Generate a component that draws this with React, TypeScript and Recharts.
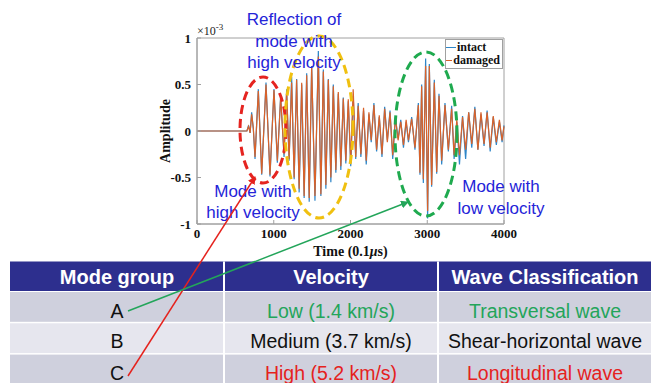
import { LineChart, Line, XAxis, YAxis, Legend, ReferenceArea } from "recharts"

// signal samples (time in 0.1 µs, amplitude in 1e-3)
const time = [
  0, 650, 672, 692, 712, 734, 756, 799, 843, 899, 951, 1003, 1047, 1090, 1134,
  1168, 1200, 1233, 1266, 1298, 1331, 1364, 1396, 1429, 1462, 1494, 1537, 1581, 1614, 1646,
  1679, 1711, 1744, 1776, 1809, 1841, 1874, 1906, 1939, 1971, 2003, 2035, 2068, 2100, 2135,
  2170, 2205, 2240, 2270, 2305, 2340, 2375, 2410, 2445, 2480, 2515, 2550, 2585, 2620, 2655,
  2690, 2725, 2755, 2797, 2840, 2884, 2905, 2927, 2949, 2979, 3005, 3027, 3057, 3092, 3123,
  3153, 3188, 3231, 3275, 3318, 3350, 3385, 3420, 3460, 3500, 3540, 3580, 3620, 3660, 3700,
  3740, 3780, 3820, 3860, 3900, 3940, 3975, 4000,
]
const intact = [
  0, 0, 0.06, -0.02, 0.2, 0.02, -0.3, 0.45, -0.47, 0.52, -0.49, 0.45, -0.34, 0.38, -0.28,
  0.45, -0.32, 0.58, -0.52, 0.56, -0.66, 0.5, -0.72, 0.62, -0.76, 0.7, -0.75, 0.86, -0.7, 0.66,
  -0.62, 0.56, -0.55, 0.5, -0.45, 0.4, -0.42, 0.36, -0.35, 0.32, -0.38, 0.38, -0.3, 0.3, -0.28,
  0.22, -0.36, 0.18, -0.12, 0.3, -0.22, 0.15, -0.28, 0.26, -0.1, 0.22, -0.3, 0.14, -0.08, 0.12,
  -0.18, 0.1, -0.12, 0.15, -0.2, 0.3, -0.47, 0.5, -0.56, 0.78, -0.94, 0.72, -0.6, 0.55, -0.46,
  0.4, -0.36, 0.3, -0.22, 0.27, -0.3, 0.1, -0.36, 0.16, -0.3, 0.2, -0.18, 0.26, -0.2, 0.18,
  -0.16, 0.22, -0.22, 0.15, -0.15, 0.1, -0.12, 0.06,
]
const damaged = [
  0, 0, 0.05, -0.02, 0.18, 0.03, -0.28, 0.43, -0.46, 0.5, -0.47, 0.44, -0.32, 0.36, -0.25,
  0.42, -0.3, 0.52, -0.5, 0.55, -0.62, 0.52, -0.7, 0.6, -0.72, 0.68, -0.7, 0.8, -0.68, 0.64,
  -0.58, 0.55, -0.5, 0.48, -0.42, 0.42, -0.38, 0.35, -0.32, 0.34, -0.35, 0.45, -0.28, 0.27, -0.25,
  0.25, -0.32, 0.2, -0.1, 0.28, -0.2, 0.17, -0.25, 0.24, -0.12, 0.2, -0.26, 0.15, -0.1, 0.1,
  -0.15, 0.12, -0.1, 0.13, -0.18, 0.28, -0.45, 0.48, -0.52, 0.7, -0.86, 0.7, -0.58, 0.52, -0.44,
  0.38, -0.32, 0.28, -0.2, 0.24, -0.26, 0.12, -0.26, 0.15, -0.2, 0.2, -0.14, 0.24, -0.2, 0.2,
  -0.14, 0.2, -0.18, 0.16, -0.12, 0.12, -0.1, 0.05,
]

const xTicks = [0, 1000, 2000, 3000, 4000]
const yTicks = [-1, -0.5, 0, 0.5, 1]

// table
const headers = ["Mode group", "Velocity", "Wave Classification"]
const groups = ["A", "B", "C"]
const velocities = ["Low (1.4 km/s)", "Medium (3.7 km/s)", "High (5.2 km/s)"]
const waves = ["Transversal wave", "Shear-horizontal wave", "Longitudinal wave"]

const data = time.map((t, i) => ({ t, intact: intact[i], damaged: damaged[i] }))

const serif = "'Liberation Serif', 'Times New Roman', serif"
const sans = "'Liberation Sans', Arial, sans-serif"
const BLUE = "#2e86c8"
const ORANGE = "#d9622a"
const NOTE = "#2424d8"
const GREEN = "#23a55a"
const RED = "#e5221d"
const rowText = [GREEN, "#111", RED]
const rowFill = ["#cfd0dd", "#e6e6ee", "#cfd0dd"]

const TimeLabel = (props: any) => {
  const vb = props.viewBox || { x: 197, y: 224, width: 307, height: 30 }
  return (
    <text x={vb.x + vb.width / 2} y={vb.y + 32} textAnchor="middle" fontFamily={serif}
      fontWeight={700} fontSize={14} fill="#111">
      Time (0.1<tspan fontStyle="italic">μ</tspan>s)
    </text>
  )
}

const AmpLabel = (props: any) => {
  const vb = props.viewBox || { x: 147, y: 38, width: 50, height: 186 }
  const cx = vb.x + 18
  const cy = vb.y + vb.height / 2
  return (
    <g>
      <text x={cx} y={cy} transform={`rotate(-90 ${cx} ${cy})`} textAnchor="middle"
        dominantBaseline="central" fontFamily={serif} fontWeight={700} fontSize={14} fill="#111">
        Amplitude
      </text>
      <text x={vb.x + vb.width} y={vb.y - 3} fontFamily={serif} fontSize={12} fill="#222">
        ×10<tspan dy={-5} fontSize={9}>-3</tspan>
      </text>
    </g>
  )
}

const LegendBox = () => (
  <div style={{ border: "1px solid #a0a0a0", background: "#fff", padding: "1px 2px 1px 0",
    fontFamily: serif, fontWeight: 700, fontSize: 12, lineHeight: "13px", color: "#111" }}>
    {[["intact", BLUE], ["damaged", ORANGE]].map(([name, c]) => (
      <div key={name} style={{ display: "flex", alignItems: "center", whiteSpace: "nowrap" }}>
        <span style={{ display: "inline-block", width: 10, borderTop: `1px solid ${c}`, marginRight: 1 }} />
        {name}
      </div>
    ))}
  </div>
)

export default function App() {
  const tableX = 10
  const colW = 214
  const colX = [tableX, tableX + colW, tableX + 2 * colW]
  const rowTop = (i: number) => 292 + i * 31.3
  const baselines = [318, 348, 380]
  return (
    <div style={{ position: "absolute", left: 0, top: 0, width: 651, height: 383, background: "#fff" }}>
      <LineChart width={651} height={383} data={data}
        margin={{ top: 38, right: 147, bottom: 129, left: 147 }}>
        <ReferenceArea x1={0} x2={4000} y1={-1} y2={1} fill="none" stroke="#a0a0a0" ifOverflow="visible" />
        <XAxis dataKey="t" type="number" domain={[0, 4000]} ticks={xTicks} height={30}
          stroke="#a0a0a0" tickSize={-4} tickMargin={9} interval={0}
          tick={{ fill: "#111", fontFamily: serif, fontWeight: 700, fontSize: 13 }}
          label={TimeLabel} />
        <YAxis type="number" domain={[-1, 1]} ticks={yTicks} width={50} interval={0}
          stroke="#a0a0a0" tickSize={-4} tickMargin={10}
          tick={{ fill: "#111", fontFamily: serif, fontWeight: 700, fontSize: 13 }}
          label={AmpLabel} />
        <Legend layout="vertical" align="center" verticalAlign="middle" content={LegendBox}
          wrapperStyle={{ top: 39, left: 445, width: 58, height: 28 }} />
        <Line dataKey="intact" type="linear" stroke={BLUE} strokeWidth={1.2} dot={false}
          isAnimationActive={false} />
        <Line dataKey="damaged" type="linear" stroke={ORANGE} strokeWidth={1.2} dot={false}
          isAnimationActive={false} />
      </LineChart>

      <svg width={651} height={383} style={{ position: "absolute", left: 0, top: 0, pointerEvents: "none" }}>
        <defs>
          <marker id="ahRed" markerWidth={8} markerHeight={8} refX={7} refY={4} orient="auto" markerUnits="userSpaceOnUse">
            <path d="M0,0 L8,4 L0,8 z" fill={RED} />
          </marker>
          <marker id="ahGreen" markerWidth={8} markerHeight={8} refX={7} refY={4} orient="auto" markerUnits="userSpaceOnUse">
            <path d="M0,0 L8,4 L0,8 z" fill={GREEN} />
          </marker>
        </defs>

        {/* mode groups */}
        <ellipse cx={263} cy={130} rx={23} ry={53} fill="none" stroke="#e52420" strokeWidth={3} strokeDasharray="9 5" />
        <ellipse cx={319} cy={127} rx={34} ry={91} fill="none" stroke="#f0c010" strokeWidth={3} strokeDasharray="9 5" />
        <ellipse cx={426} cy={134} rx={31} ry={82} fill="none" stroke="#1faa4f" strokeWidth={3} strokeDasharray="9 5" />

        <g fontFamily={sans} fontSize={17} fill={NOTE} textAnchor="middle">
          <text x={294} y={25}>Reflection of</text>
          <text x={294} y={47}>mode with</text>
          <text x={294} y={68}>high velocity</text>
          <text x={253} y={197}>Mode with</text>
          <text x={253} y={218}>high velocity</text>
          <text x={501} y={192}>Mode with</text>
          <text x={501} y={214}>low velocity</text>
        </g>

        {/* table */}
        <rect x={tableX} y={261.5} width={651 - tableX} height={29.5} fill="#2d2f8e" />
        {groups.map((_, i) => (
          <rect key={i} x={tableX} y={rowTop(i)} width={651 - tableX} height={29.8} fill={rowFill[i]} />
        ))}
        {[1, 2].map((k) => (
          <line key={k} x1={colX[k]} x2={colX[k]} y1={261.5} y2={383} stroke="#fff" strokeWidth={2} />
        ))}
        <g fontFamily={sans} fontWeight={700} fontSize={20} fill="#fff" textAnchor="middle">
          {headers.map((h, k) => (
            <text key={h} x={colX[k] + colW / 2} y={284}>{h}</text>
          ))}
        </g>
        <g fontFamily={sans} fontSize={19.5} textAnchor="middle">
          {groups.map((g, i) => (
            <g key={g}>
              <text x={colX[0] + colW / 2} y={baselines[i]} fill="#111">{g}</text>
              <text x={colX[1] + colW / 2} y={baselines[i]} fill={rowText[i]}>{velocities[i]}</text>
              <text x={colX[2] + colW / 2} y={baselines[i]} fill={rowText[i]}>{waves[i]}</text>
            </g>
          ))}
        </g>

        {/* arrows */}
        <line x1={128} y1={376} x2={255} y2={177} stroke={RED} strokeWidth={1.5} markerEnd="url(#ahRed)" />
        <line x1={128} y1={311} x2={408} y2={202} stroke={GREEN} strokeWidth={1.5} markerEnd="url(#ahGreen)" />
      </svg>
    </div>
  )
}
